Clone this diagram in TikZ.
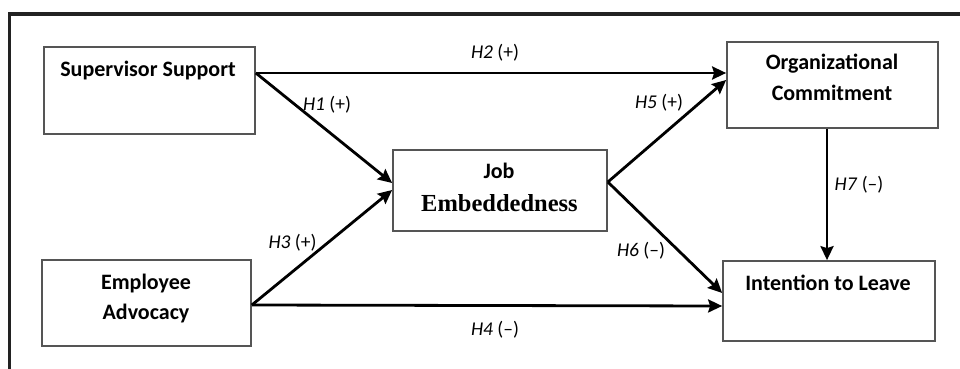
\documentclass[tikz,border=0pt]{standalone}
\usepackage{fontspec}
\setmainfont{Carlito}
\newfontfamily\timesf{Liberation Serif}
\usetikzlibrary{arrows.meta}
\definecolor{boxgray}{HTML}{555555}
\definecolor{framegray}{HTML}{222222}
\begin{document}
\begin{tikzpicture}[x=1pt,y=-1pt,
  box/.style={draw=boxgray, line width=1.7pt, rectangle, inner sep=0pt},
  boxtext/.style={anchor=base, inner sep=0pt, font=\fontsize{22}{25}\selectfont\bfseries},
  hlab/.style={anchor=base, inner sep=0pt, font=\fontsize{19.5}{22}\selectfont},
  conn/.style={line width=2.8pt, draw=black, -{Stealth[length=14pt,width=13pt,inset=2pt]}}]
\useasboundingbox[fill=white] (0,0) rectangle (960,369);
% frame (top and left only)
\coordinate (frtl) at (9.5,14);
\coordinate (frtr) at (960,14);
\coordinate (frbl) at (9.5,369);
\draw[framegray, line width=3.2pt] (frbl) -- (frtl) -- (frtr);
% boxes
\node[box, minimum width=211pt, minimum height=87pt] (ss) at (149.5,90.5) {};
\node[box, minimum width=211pt, minimum height=86pt] (oc) at (832.5,85) {};
\node[box, minimum width=209pt, minimum height=86pt] (ea) at (146.5,303) {};
\node[box, minimum width=214pt, minimum height=81pt] (je) at (500,190.5) {};
\node[box, minimum width=212pt, minimum height=80pt] (il) at (829,301) {};
% box texts
\node[boxtext] (sst) at (148,76) {Supervisor Support};
\node[boxtext] (oct1) at (832,69.5) {Organizational};
\node[boxtext] (oct2) at (832,100) {Commitment};
\node[boxtext] (eat1) at (146,289) {Employee};
\node[boxtext] (eat2) at (146,319) {Advocacy};
\node[boxtext] (jet1) at (499,178) {Job};
\node[anchor=base, inner sep=0pt, font=\timesf\fontsize{24.5}{27}\selectfont\bfseries] (jet2) at (499.5,211.5) {Embeddedness};
\node[boxtext] (ilt) at (828,290) {Intention to Leave};
% connectors
\draw[conn] ([yshift=17.5pt]ss.east) -- ([yshift=12pt]oc.west);
\draw[conn] ([yshift=17.5pt]ss.east) -- ([yshift=7.5pt]je.west);
\draw[conn] ([yshift=-2pt]ea.east) -- ([yshift=0.5pt]je.west);
\draw[conn] ([yshift=-2pt]ea.east) -- ([yshift=-5pt]il.west);
\draw[conn] ([yshift=8.5pt]je.east) -- ([yshift=5pt]oc.west);
\draw[conn] ([yshift=8.5pt]je.east) -- ([yshift=8pt]il.west);
\draw[conn] ([xshift=-5.5pt]oc.south) -- ([xshift=-2pt]il.north);
% hypothesis labels
\node[hlab] (h1) at (327,110) {\textit{H1} (+)};
\node[hlab] (h2) at (495,59) {\textit{H2} (+)};
\node[hlab] (h3) at (292.5,248) {\textit{H3} (+)};
\node[hlab] (h4) at (495,335) {\textit{H4} (–)};
\node[hlab] (h5) at (659,108) {\textit{H5} (+)};
\node[hlab] (h6) at (641,256.5) {\textit{H6} (–)};
\node[hlab] (h7) at (859,190.5) {\textit{H7} (–)};
\end{tikzpicture}
\end{document}
